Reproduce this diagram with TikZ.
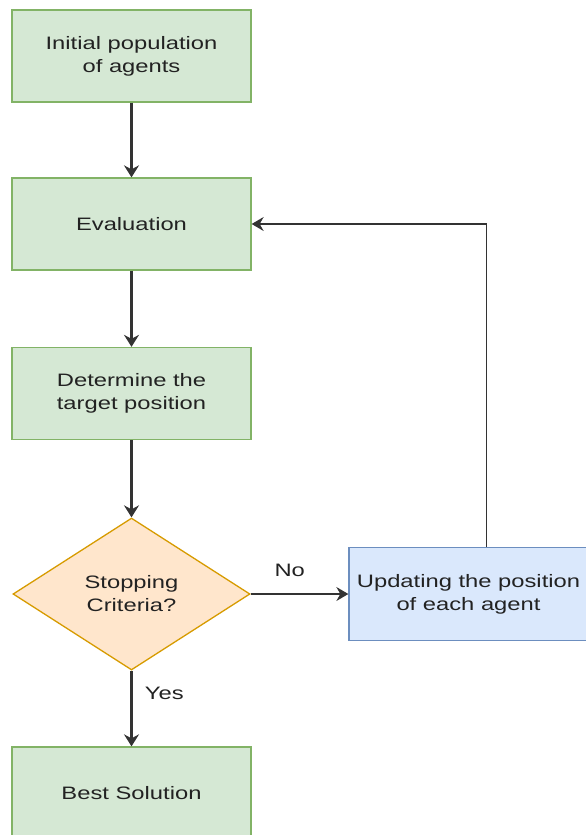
\documentclass[tikz,border=0pt]{standalone}
\usepackage{fontspec}
\setmainfont{Liberation Sans}[FakeStretch=1.32]
\usetikzlibrary{shapes.geometric,arrows.meta}
\definecolor{gfill}{HTML}{D5E8D4}
\definecolor{gline}{HTML}{82B366}
\definecolor{ofill}{HTML}{FFE6CC}
\definecolor{oline}{HTML}{D79B00}
\definecolor{bfill}{HTML}{DAE8FC}
\definecolor{bline}{HTML}{6C8EBF}
\definecolor{ink}{HTML}{333333}
\definecolor{txt}{HTML}{222222}
\tikzset{
  every node/.style={font=\fontsize{18}{23}\selectfont, text=txt, align=center},
  stepbox/.style={draw=gline, fill=gfill, line width=1.3pt, minimum width=239pt, minimum height=92pt, inner sep=0pt},
  updbox/.style={draw=bline, fill=bfill, line width=1.3pt, minimum width=239pt, minimum height=93pt, inner sep=0pt},
  decision/.style={diamond, draw=oline, fill=ofill, line width=1.3pt, minimum width=237pt, minimum height=152pt, inner sep=0pt},
  arr/.style={draw=ink, line width=2.2pt, -{Stealth[length=12pt,width=15pt,inset=4pt]}},
  arrthin/.style={draw=ink, line width=1.3pt, -{Stealth[length=12pt,width=14pt,inset=4pt]}},
}
\begin{document}
\begin{tikzpicture}[x=1pt,y=-1pt]
\useasboundingbox (0,0) rectangle (586,835);
\node[stepbox] (init) at (131.5,56) {Initial population\\of agents};
\node[stepbox] (eval) at (131.5,224) {Evaluation};
\node[stepbox] (target) at (131.5,393.5) {Determine the\\target position};
\node[decision] (stop) at (131.5,594) {Stopping\\Criteria?};
\node[stepbox] (best) at (131.5,793) {Best Solution};
\node[updbox] (update) at (468.5,594) {Updating the position\\of each agent};

\draw[arr] (init) -- (eval);
\draw[arr] (eval) -- (target);
\draw[arr] (target) -- (stop);
\draw[arr] (stop) -- node[pos=0.3, anchor=west, xshift=9pt] {Yes} (best);
\draw[arrthin] (stop.east) -- node[pos=0.4, yshift=24pt] {No} (update.west);
\draw[arrthin] ([xshift=18pt]update.north) |- (eval.east);
\end{tikzpicture}
\end{document}
